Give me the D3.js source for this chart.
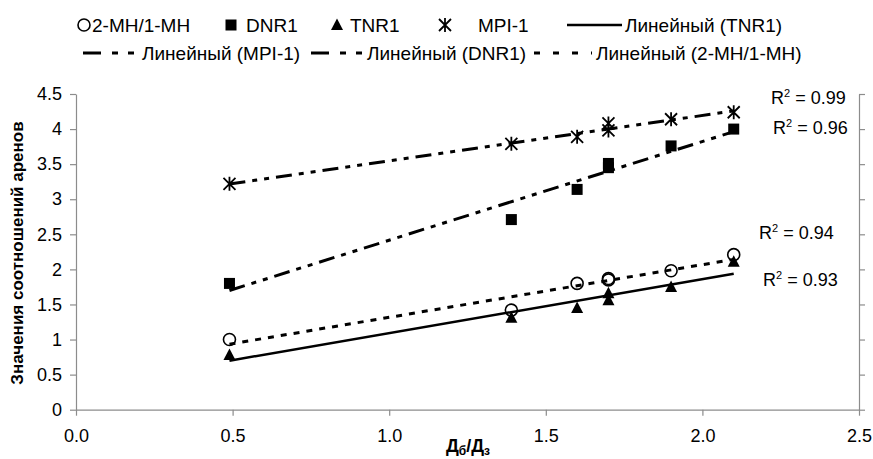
<!DOCTYPE html>
<html><head><meta charset="utf-8">
<script src="https://cdn.jsdelivr.net/npm/d3@7"></script>
<style>
body{margin:0;background:#fff;}
text{font-family:"Liberation Sans",Arial,sans-serif;fill:#000;}
</style></head>
<body><svg id="c" width="873" height="459"></svg>
<script>
// ---- data ----
const xValues = [0.49, 1.39, 1.6, 1.7, 1.7, 1.9, 2.1];
const mhValues  = [1.00, 1.42, 1.80, 1.87, 1.85, 1.98, 2.21];   // 2-MH/1-MH
const dnrValues = [1.80, 2.71, 3.14, 3.51, 3.45, 3.76, 4.00];   // DNR1
const tnrValues = [0.78, 1.31, 1.45, 1.56, 1.66, 1.75, 2.11];   // TNR1
const mpiValues = [3.22, 3.79, 3.89, 4.08, 3.98, 4.14, 4.24];   // MPI-1
const xTicks = [0, 0.5, 1.0, 1.5, 2.0, 2.5];
const xTickLabels = ["0.0", "0.5", "1.0", "1.5", "2.0", "2.5"];
const yTicks = [0, 0.5, 1, 1.5, 2, 2.5, 3, 3.5, 4, 4.5];
const yTickLabels = ["0", "0.5", "1", "1.5", "2", "2.5", "3", "3.5", "4", "4.5"];
const r2Labels = {mpi: "0.99", dnr: "0.96", mh: "0.94", tnr: "0.93"};
const seriesNames = {mh: "2-MH/1-MH", dnr: "DNR1", tnr: "TNR1", mpi: "MPI-1"};
const trendPrefix = "Линейный";
const yTitle = "Значения соотношений аренов";

const svg = d3.select("#c");
const x = d3.scaleLinear().domain([0, 2.5]).range([76, 859]);
const y = d3.scaleLinear().domain([0, 4.5]).range([409.7, 94]);
const axisColor = "#8c8c8c";

// axes
const gx = svg.append("g").attr("transform", `translate(0,${y(0)})`)
  .call(d3.axisBottom(x).tickValues(xTicks).tickFormat((d,i)=>xTickLabels[i]).tickSize(6).tickPadding(14).tickSizeOuter(0));
const gy = svg.append("g").attr("transform", `translate(${x(0)},0)`)
  .call(d3.axisLeft(y).tickValues(yTicks).tickFormat((d,i)=>yTickLabels[i]).tickSize(6).tickPadding(8).tickSizeOuter(0));
const gr = svg.append("g").attr("transform", `translate(${x(2.5)},0)`)
  .call(d3.axisRight(y).tickValues(yTicks).tickFormat("").tickSize(6).tickSizeOuter(0));
[gx, gy, gr].forEach(g => {
  g.selectAll("path,line").attr("stroke", axisColor).attr("stroke-width", 1.2);
  g.selectAll("text").style("font-size", "18px").attr("fill", "#000");
});

// trend lines (least squares from the data)
function fit(xs, ys){
  const mx = d3.mean(xs), my = d3.mean(ys);
  let sxy=0, sxx=0;
  xs.forEach((v,i)=>{sxy+=(v-mx)*(ys[i]-my); sxx+=(v-mx)*(v-mx);});
  const b = sxy/sxx, a = my - b*mx;
  return v => a + b*v;
}
const series = [
  {key:"mh", vals: mhValues, dash:"6,7", w:3},
  {key:"dnr", vals: dnrValues, dash:"16,7,5,7,5,7", w:3},
  {key:"tnr", vals: tnrValues, dash:null, w:2.5},
  {key:"mpi", vals: mpiValues, dash:"16,7,5,7,5,7", w:3}
];
const x0 = d3.min(xValues), x1 = d3.max(xValues);
series.forEach(s => {
  const f = fit(xValues, s.vals);
  svg.append("line")
    .attr("x1", x(x0)).attr("y1", y(f(x0)))
    .attr("x2", x(x1)).attr("y2", y(f(x1)))
    .attr("stroke", "#000").attr("stroke-width", s.w)
    .attr("stroke-dasharray", s.dash);
});

// markers
function marker(g, type, cx, cy){
  if(type==="mh") g.append("circle").attr("cx",cx).attr("cy",cy).attr("r",6).attr("fill","none").attr("stroke","#000").attr("stroke-width",1.6);
  if(type==="dnr") g.append("rect").attr("x",cx-5.5).attr("y",cy-5.5).attr("width",11).attr("height",11).attr("fill","#000");
  if(type==="tnr") g.append("path").attr("d",`M${cx},${cy-6.5}L${cx+6},${cy+5}L${cx-6},${cy+5}Z`).attr("fill","#000");
  if(type==="mpi") g.append("path").attr("d",`M${cx},${cy-7}V${cy+7}M${cx-6},${cy-6}L${cx+6},${cy+6}M${cx+6},${cy-6}L${cx-6},${cy+6}`).attr("stroke","#000").attr("stroke-width",1.8).attr("fill","none");
}
const mg = svg.append("g");
["tnr","dnr","mpi","mh"].forEach(k => {
  const s = series.find(d=>d.key===k);
  s.vals.forEach((v,i) => marker(mg, k, x(xValues[i]), y(v)));
});

// R² labels
function r2(tx, ty, val){
  const t = svg.append("text").attr("x", tx).attr("y", ty).style("font-size","18px");
  t.append("tspan").text("R");
  t.append("tspan").attr("dy", -7).style("font-size","11px").text("2");
  t.append("tspan").attr("dy", 7).text(" = " + val);
}
r2(771, 104, r2Labels.mpi);
r2(773, 134, r2Labels.dnr);
r2(759, 239, r2Labels.mh);
r2(763, 286, r2Labels.tnr);

// axis titles
svg.append("text").attr("transform","translate(23,253) rotate(-90)").attr("text-anchor","middle")
  .style("font-size","17px").style("font-weight","bold").text(yTitle);
const xt = svg.append("text").attr("x", 468).attr("y", 452).attr("text-anchor","middle")
  .style("font-size","18px").style("font-weight","bold");
xt.append("tspan").text("Д");
xt.append("tspan").attr("dy",3).style("font-size","12px").text("б");
xt.append("tspan").attr("dy",-3).text("/Д");
xt.append("tspan").attr("dy",3).style("font-size","12px").text("з");

// legend
const lg = svg.append("g").style("font-size","19px");
const leg1 = [
  {k:"mh", mx:84, tx:92},
  {k:"dnr", mx:231, tx:246},
  {k:"tnr", mx:337, tx:350},
  {k:"mpi", mx:445, tx:478}
];
leg1.forEach(d => {
  marker(lg, d.k, d.mx, 25);
  lg.append("text").attr("x", d.tx).attr("y", 32).text(seriesNames[d.k]);
});
const leg2 = [
  {k:"tnr", y:25, x1:567, x2:622, dash:null, w:2.5, tx:625},
  {k:"mpi", y:53, x1:83, x2:137, dash:"18,11,6,10,6,100", w:3, tx:142},
  {k:"dnr", y:53, x1:311, x2:365, dash:"18,11,6,10,6,100", w:3, tx:367},
  {k:"mh", y:53, x1:534, x2:592, dash:"6,13", w:3, tx:596}
];
leg2.forEach(d => {
  lg.append("line").attr("x1",d.x1).attr("x2",d.x2).attr("y1",d.y).attr("y2",d.y)
    .attr("stroke","#000").attr("stroke-width",d.w).attr("stroke-dasharray",d.dash);
  lg.append("text").attr("x", d.tx).attr("y", d.y+7).text(`${trendPrefix} (${seriesNames[d.k]})`);
});
</script></body></html>
